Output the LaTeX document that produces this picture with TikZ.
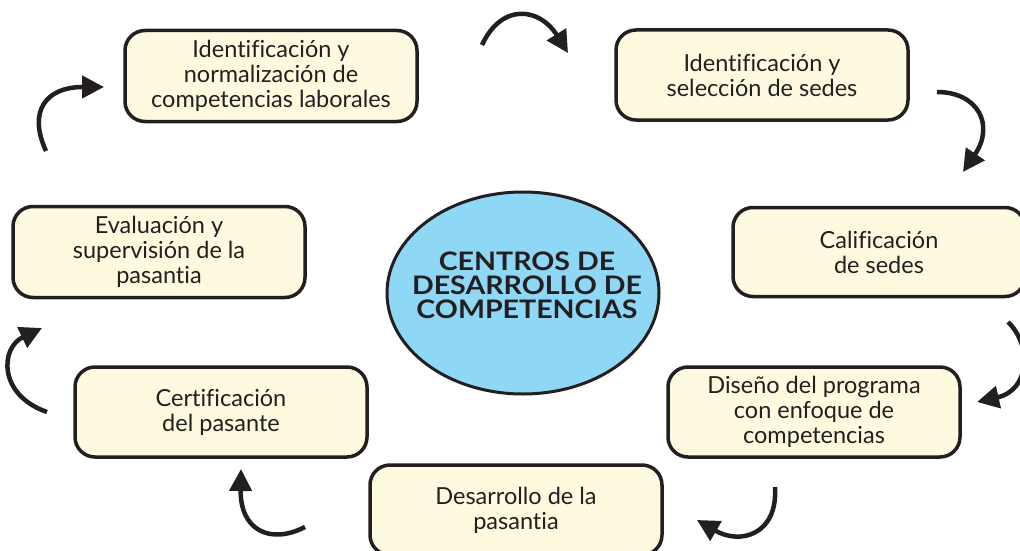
\documentclass[tikz,border=0pt]{standalone}
\usepackage{fontspec}
\setmainfont[Ligatures={NoCommon}]{Lato}
\newfontfamily\widebold[FakeStretch=1.12,Ligatures={NoCommon}]{Lato}
\usetikzlibrary{arrows.meta,shapes.geometric}
\definecolor{boxfill}{HTML}{FEFADF}
\definecolor{ellfill}{HTML}{8ED8F6}
\definecolor{ink}{HTML}{231F20}
\tikzset{
  stepbox/.style={draw=ink, line width=3.5pt, rounded corners=20pt, fill=boxfill,
    minimum width=#1, align=center, text=ink, inner sep=0pt,
    font=\fontsize{23.5}{25}\selectfont},
  stepbox/.default=292pt,
  cyc/.style={draw=ink, line width=4.5pt,
    -{Triangle[length=22pt,width=22pt]}},
}
\begin{document}
\begin{tikzpicture}[x=1pt,y=-1pt]
\useasboundingbox (0,0) rectangle (1020,551);
% boxes
\node[stepbox, minimum height=91pt] (b1) at (271,76)
  {Identificación y\\normalización de\\competencias laborales};
\node[stepbox, minimum height=90pt] (b2) at (762,75)
  {Identificación y\\selección de sedes};
\node[stepbox, minimum height=89pt] (b3) at (879,252)
  {Calificación\\de sedes};
\node[stepbox, minimum height=90pt] (b4) at (814,412)
  {Diseño del programa\\con enfoque de\\competencias};
\node[stepbox, minimum height=90pt] (b5) at (516,510)
  {Desarrollo de la\\pasantia};
\node[stepbox, minimum height=90pt] (b6) at (221,412)
  {Certificación\\del pasante};
\node[stepbox, minimum height=91pt] (b7) at (159,252)
  {Evaluación y\\supervisión de la\\pasantia};
% center
\node[ellipse, draw=ink, line width=3pt, fill=ellfill,
  minimum width=272pt, minimum height=202pt, inner sep=0pt] (c) at (523,293) {};
\node[align=center, inner sep=0pt, text=ink,
  font=\widebold\fontsize{25.5}{24}\selectfont\bfseries] (ct) at (527,285)
  {CENTROS DE\\DESARROLLO DE\\COMPETENCIAS};
% arrows
\coordinate (a1s) at (482,45);  \coordinate (a1e) at (568,53);
\coordinate (a2s) at (46,151);  \coordinate (a2e) at (104,87);
\coordinate (a3s) at (937,92);  \coordinate (a3e) at (963,172);
\coordinate (a4s) at (1008,322);\coordinate (a4e) at (977,402);
\coordinate (a5s) at (775,487); \coordinate (a5e) at (697,520);
\coordinate (a6s) at (305,527); \coordinate (a6e) at (241,469);
\coordinate (a7s) at (47,412);  \coordinate (a7e) at (42,328);
\draw[cyc] (a1s) .. controls (502,2) and (540,8) .. (a1e);
\draw[cyc] (a2s) .. controls (28,112) and (45,87) .. (a2e);
\draw[cyc] (a3s) .. controls (978,92) and (995,125) .. (a3e);
\draw[cyc] (a4s) .. controls (1032,345) and (1030,390) .. (a4e);
\draw[cyc] (a5s) .. controls (778,535) and (740,545) .. (a5e);
\draw[cyc] (a6s) .. controls (270,545) and (240,530) .. (a6e);
\draw[cyc] (a7s) .. controls (-2,395) and (0,348) .. (a7e);
\end{tikzpicture}
\end{document}
